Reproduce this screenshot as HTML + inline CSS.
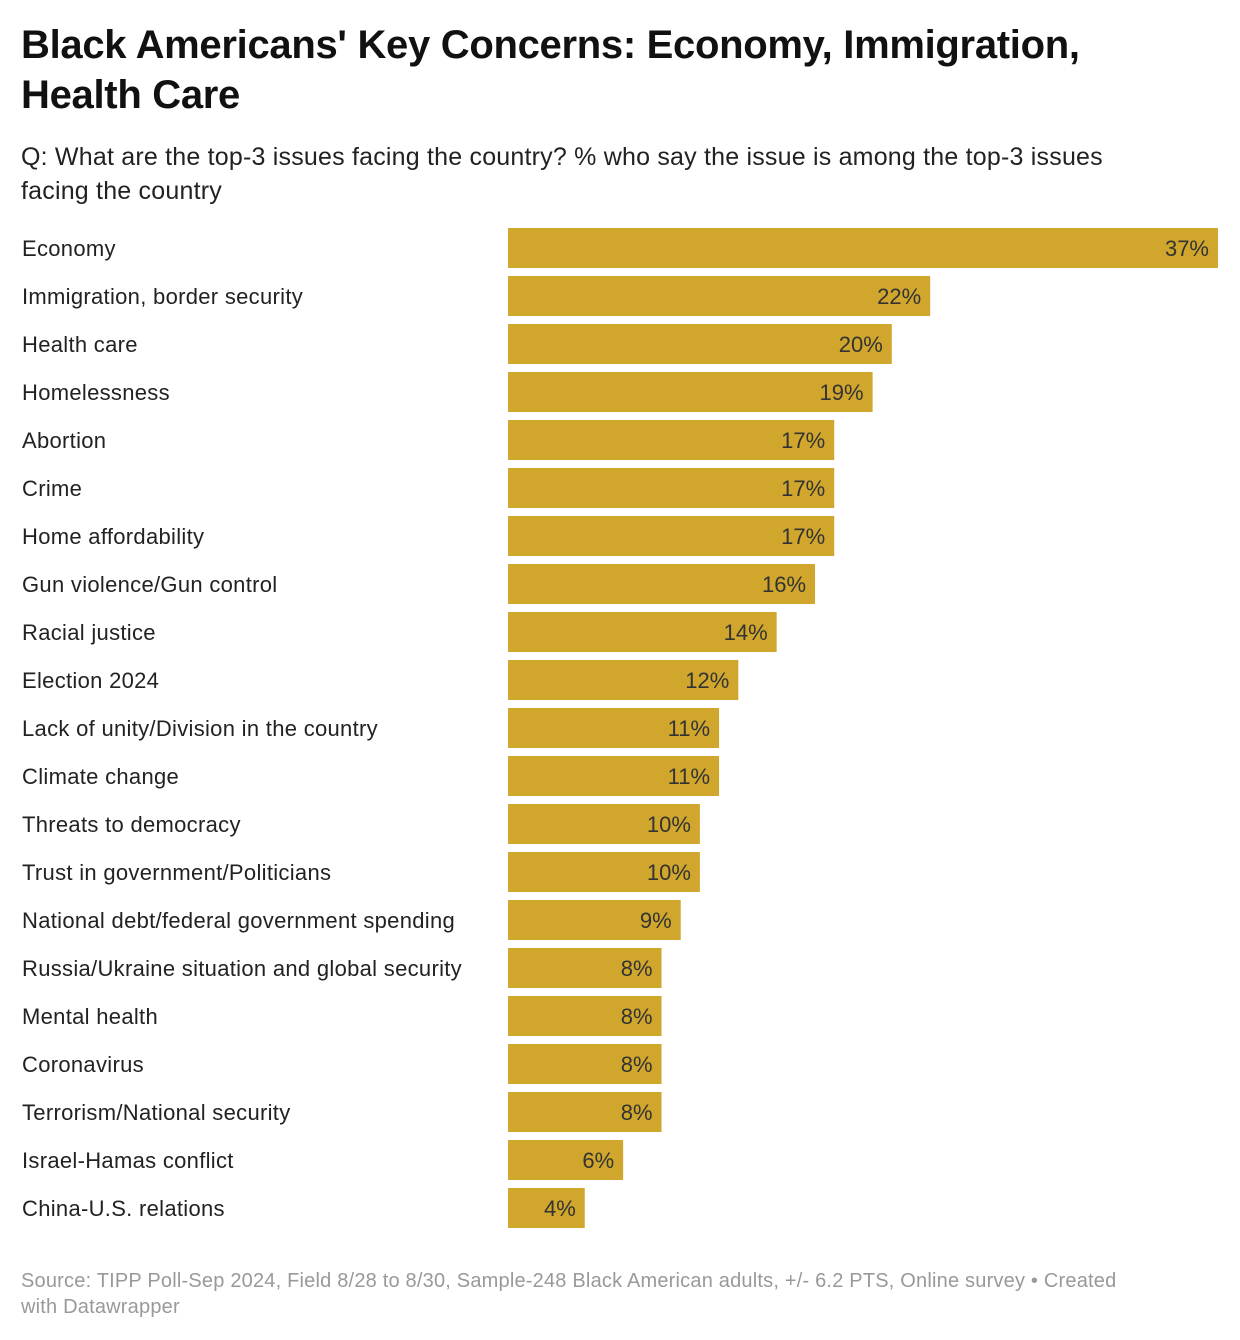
<!DOCTYPE html>
<html><head><meta charset="utf-8">
<style>
body{margin:0;background:#fff;width:1240px;height:1340px;overflow:hidden;font-family:"Liberation Sans",sans-serif;}
#title{position:absolute;left:21px;top:20px;width:1120px;font-weight:bold;font-size:40px;line-height:50px;color:#111;letter-spacing:-0.3px}
#sub{position:absolute;left:21px;top:140px;width:1150px;font-size:25px;line-height:34px;color:#222;letter-spacing:0.2px}
#foot{position:absolute;left:21px;top:1268px;width:1130px;font-size:20px;line-height:26px;color:#999;letter-spacing:0.2px}
svg{position:absolute;left:0;top:0}
</style></head><body>
<div id="title">Black Americans' Key Concerns: Economy, Immigration, Health Care</div>
<div id="sub">Q: What are the top-3 issues facing the country? % who say the issue is among the top-3 issues facing the country</div>
<svg id="chart" width="1240" height="1340"></svg>
<div id="foot">Source: TIPP Poll-Sep 2024, Field 8/28 to 8/30, Sample-248 Black American adults, +/- 6.2 PTS, Online survey • Created with Datawrapper</div>
<script>
const categories=["Economy","Immigration, border security","Health care","Homelessness","Abortion","Crime","Home affordability","Gun violence/Gun control","Racial justice","Election 2024","Lack of unity/Division in the country","Climate change","Threats to democracy","Trust in government/Politicians","National debt/federal government spending","Russia/Ukraine situation and global security","Mental health","Coronavirus","Terrorism/National security","Israel-Hamas conflict","China-U.S. relations"];
const values=[37,22,20,19,17,17,17,16,14,12,11,11,10,10,9,8,8,8,8,6,4];
const svg=document.getElementById('chart');
const NS='http://www.w3.org/2000/svg';
const x0=508, maxV=37, maxW=710;
function xs(v){return v/maxV*maxW;}
function yb(i){return 228+i*48;}
categories.forEach((c,i)=>{
  const t=document.createElementNS(NS,'text');
  
  
  t.setAttribute('x',22);t.setAttribute('y',yb(i)+28);
  t.setAttribute('font-size','22');t.setAttribute('fill','#222');
  t.setAttribute('letter-spacing','0.3');
  t.setAttribute('font-family','Liberation Sans, sans-serif');
  t.textContent=c;svg.appendChild(t);
  const r=document.createElementNS(NS,'rect');
  
  
  r.setAttribute('x',x0);r.setAttribute('y',yb(i));
  r.setAttribute('width',xs(values[i]));r.setAttribute('height',40);
  r.setAttribute('fill','#d0a62c');svg.appendChild(r);
  const v=document.createElementNS(NS,'text');
  
  
  v.setAttribute('x',x0+xs(values[i])-9);v.setAttribute('y',yb(i)+28);
  v.setAttribute('text-anchor','end');
  v.setAttribute('font-size','22');v.setAttribute('fill','#333');
  v.setAttribute('font-family','Liberation Sans, sans-serif');
  v.textContent=values[i]+'%';svg.appendChild(v);
});
</script>
</body></html>
